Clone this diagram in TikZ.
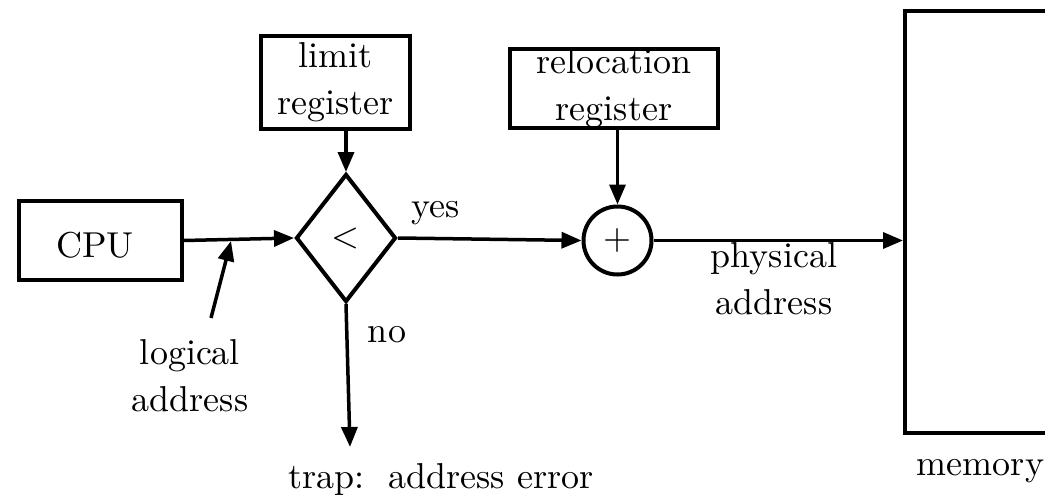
\documentclass[tikz,border=0pt]{standalone}
\usepackage{fontspec}
\setmainfont{lmroman10-regular.otf}
\usetikzlibrary{arrows.meta,shapes.geometric}
\begin{document}
\begin{tikzpicture}[x=1pt,y=-1pt,
  every node/.style={font=\fontsize{36}{47}\selectfont},
  box/.style={draw,line width=4pt,rectangle,inner sep=0pt,align=center},
  lbl/.style={inner sep=0pt,align=center},
  flow/.style={line width=3.5pt,-{Triangle[length=20pt,width=16pt]}}]
\useasboundingbox (0,0) rectangle (1045,495);
\clip (0,0) rectangle (1045,495);

% processing blocks
\node[box,minimum width=163,minimum height=79] (cpu) at (100.5,240.5) {};
\node[lbl,anchor=base] at (95,257) {CPU};
\node[box,minimum width=149,minimum height=93] (limit) at (335.5,82.5) {limit\\register};
\node[box,minimum width=208,minimum height=77] (reloc) at (614,88.5) {relocation\\register};
\node[draw,line width=4pt,diamond,inner sep=0pt,minimum width=100,minimum height=128] (lt) at (346,238) {<};
\node[draw,line width=4pt,circle,inner sep=0pt,minimum size=68] (plus) at (617.5,240.5) {+};
\node[box,minimum width=200,minimum height=422] (mem) at (1005,222) {};

% free ends
\coordinate (latail) at (211,318);
\coordinate (latip) at (231,241);
\coordinate (trapend) at (350,447);

% connectors
\draw[flow] (cpu.east) -- (lt.west);
\draw[flow] (latail) -- (latip);
\draw[flow] (lt.north |- limit.south) -- (lt.north);
\draw[flow] (lt.east) -- (plus.west);
\draw[flow] (plus.north |- reloc.south) -- (plus.north);
\draw[flow] (lt.south) -- (trapend);
\draw[flow] (plus.east) -- (plus.east -| mem.west);

% labels
\node[lbl] (logaddr) at (190,376) {logical\\address};
\node[lbl,anchor=base] (yes) at (436,217) {yes};
\node[lbl,anchor=base] (no) at (387,342) {no};
\node[lbl] (phys) at (774,279) {physical\\address};
\node[lbl,anchor=base] (trap) at (441,488) {trap:\ \ address error};
\node[lbl,anchor=base] (memlbl) at (980.5,475) {memory};
\end{tikzpicture}
\end{document}
